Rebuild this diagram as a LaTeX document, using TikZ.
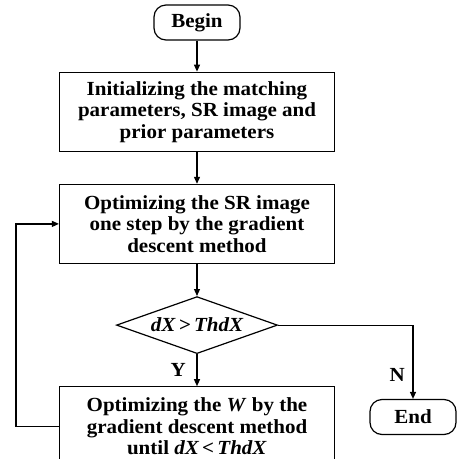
\documentclass[tikz,border=0pt]{standalone}
\usepackage{fontspec}
\setmainfont{Liberation Serif}[FakeStretch=1.05]
\usetikzlibrary{arrows.meta,positioning,shapes.geometric}
\tikzset{
  block/.style      = {draw, line width=1.2pt, minimum height=79pt, minimum width=275pt,
                       inner sep=2pt, align=center},
  term/.style       = {draw, line width=1.2pt, rounded corners=12pt, minimum height=35pt,
                       minimum width=86pt, inner sep=2pt},
  decision/.style   = {draw, line width=1.2pt, diamond, aspect=2.8, minimum width=161pt,
                       minimum height=57pt, inner sep=0pt},
  sig/.style        = {-{Triangle[length=7pt,width=6pt]}, line width=1.2pt},
  lbl/.style        = {inner sep=1.5pt},
  node distance     = 31pt,
  every node/.style = {font=\fontsize{20}{21.5}\selectfont\bfseries},
}
\begin{document}
\begin{tikzpicture}[x=1pt,y=1pt]
  \useasboundingbox (0,0) rectangle (458,-459);
  \clip (0,0) rectangle (458,-459);
  \node[term] (begin) at (197,-22.5) {Begin};
  \node[block, below=of begin] (init) {Initializing the matching\\parameters, SR image and\\prior parameters};
  \node[block, below=32pt of init] (optx) {Optimizing the SR image\\one step by the gradient\\descent method};
  \node[decision, below=32pt of optx] (dec) {\itshape dX\,>\,ThdX};
  \node[block, below=32pt of dec] (optw) {Optimizing the \textit{W} by the\\gradient descent method\\until \textit{dX\,<\,ThdX}};
  \node[term] (end) at (413,-417) {End};
  \draw[sig] (begin) -- (init);
  \draw[sig] (init) -- (optx);
  \draw[sig] (optx) -- (dec);
  \draw[sig] (dec) -- (optw) node[midway, left, lbl, xshift=-9pt] {Y};
  \draw[sig] (dec.east) -| (end.north) node[pos=0.84, left, lbl, xshift=-6pt] {N};
  \draw[sig] (optw.west) -- ++(-43,0) |- (optx.west);
\end{tikzpicture}
\end{document}
